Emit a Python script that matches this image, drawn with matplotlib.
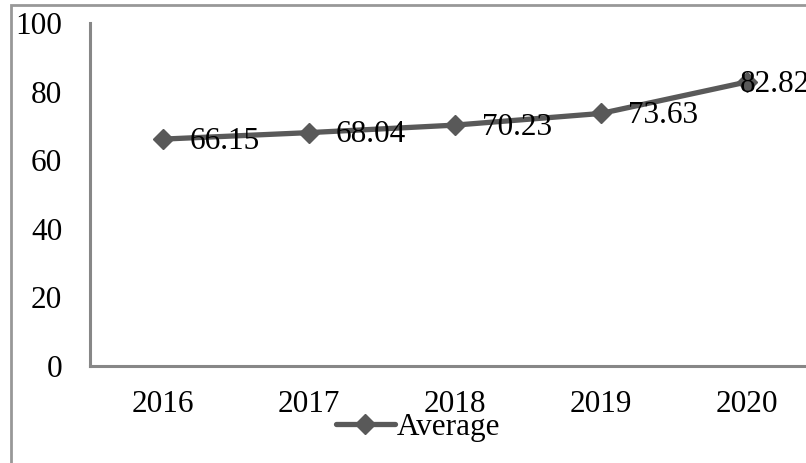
import matplotlib
matplotlib.use("Agg")
import matplotlib.pyplot as plt
from matplotlib.patches import Rectangle

years = ["2016", "2017", "2018", "2019", "2020"]
average = [66.15, 68.04, 70.23, 73.63, 82.82]
y_ticks = [0, 20, 40, 60, 80, 100]

W, H = 806, 463
plt.rcParams["font.family"] = ["Liberation Serif", "DejaVu Serif"]
FS = 22.5
LINE = "#595959"
AXIS = "#878787"

fig = plt.figure(figsize=(W / 100, H / 100), dpi=100)

# chart area border (extends past the right/bottom of the canvas)
fig.patches.append(Rectangle((11 / W, -0.2), 1.2, 1 - 5 / H + 0.2,
                             transform=fig.transFigure, fill=False,
                             edgecolor="#989898", linewidth=2.0, clip_on=False))

left, right, top, bottom = 90, 820, 23, 366
ax = fig.add_axes([left / W, 1 - bottom / H, (right - left) / W, (bottom - top) / H])
ax.set_facecolor("none")

x = list(range(len(years)))
ax.plot(x, average, color=LINE, linewidth=3.8, marker="D", markersize=10,
        markerfacecolor=LINE, markeredgecolor=LINE, label="Average",
        solid_capstyle="round", clip_on=False)

for i, v in enumerate(average):
    # keep the last label inside the chart box
    dx = 27 if i < len(average) - 1 else -7
    ax.annotate(f"{v:.2f}", (i, v), xytext=(dx * 0.72, -1.5), textcoords="offset points",
                ha="left", va="center", fontsize=FS, color="black", annotation_clip=False)

ax.set_xlim(-0.5, len(years) - 0.5)
ax.set_ylim(0, 100)
ax.set_xticks(x)
ax.set_xticklabels(years)
ax.set_yticks(y_ticks)
ax.tick_params(axis="both", length=0, labelsize=FS, colors="black")
ax.tick_params(axis="y", pad=20)
ax.tick_params(axis="x", pad=17)

for s in ("top", "right"):
    ax.spines[s].set_visible(False)
for s in ("left", "bottom"):
    ax.spines[s].set_color(AXIS)
    ax.spines[s].set_linewidth(2.2)

leg = fig.legend(loc="center", bbox_to_anchor=(418 / W, 1 - 427 / H), frameon=False,
                 fontsize=FS, handlelength=1.9, handletextpad=0.05, borderpad=0)

fig.savefig("out.png", dpi=100)
